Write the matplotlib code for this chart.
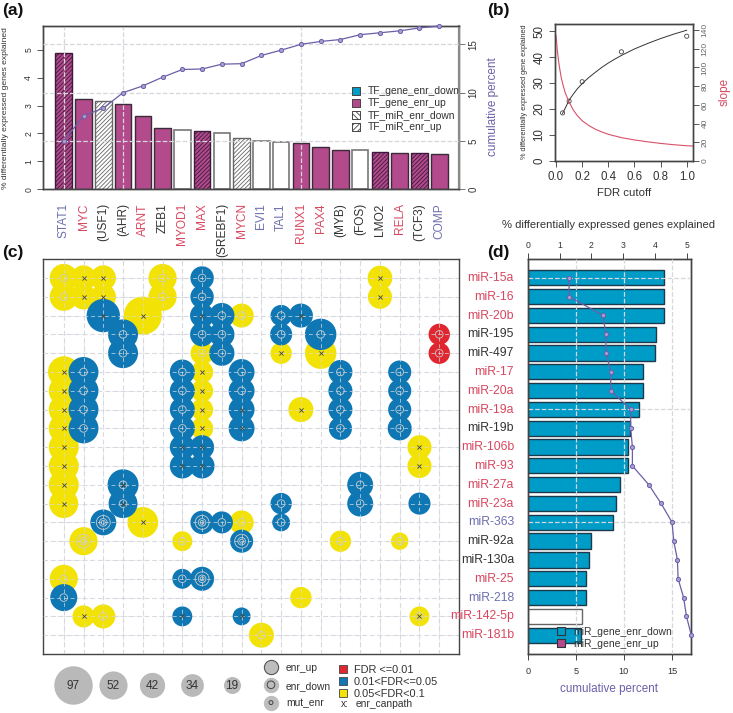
import numpy as np
import matplotlib
matplotlib.use('Agg')
import matplotlib.pyplot as plt

plt.rcParams['font.family'] = ['Liberation Sans', 'DejaVu Sans']
plt.rcParams['hatch.linewidth'] = 0.6

W, H = 733, 713

# --- colours ---
MAG = '#B24A8B'
BAR_BLUE = '#009CC8'
DOT_BLUE = '#0F78B4'
YEL = '#F3E205'
RED = '#E0262E'
T_RED = '#D8475F'
T_BLUE = '#6E6FAE'
T_DARK = '#333333'
PURPLE = '#6C5FA8'
GRID = '#D6D6DC'
text_col = {'r': T_RED, 'b': T_BLUE, 'd': T_DARK}

# --- panel a ---
tf_names = ['STAT1', 'MYC', '(USF1)', '(AHR)', 'ARNT', 'ZEB1', 'MYOD1', 'MAX', '(SREBF1)', 'MYCN',
            'EVI1', 'TAL1', 'RUNX1', 'PAX4', '(MYB)', '(FOS)', 'LMO2', 'RELA', '(TCF3)', 'COMP']
tf_colors = ['b', 'r', 'd', 'd', 'r', 'd', 'r', 'r', 'd', 'r', 'b', 'b', 'r', 'r', 'd', 'd', 'd', 'r', 'd', 'b']
tf_values = [4.9, 3.25, 3.18, 3.05, 2.62, 2.18, 2.13, 2.1, 2.03, 1.82,
             1.74, 1.71, 1.67, 1.5, 1.4, 1.4, 1.35, 1.31, 1.31, 1.26]
# m = magenta, h = magenta hatched, w = white, s = white hatched
tf_style = ['h', 'm', 's', 'm', 'm', 'm', 'w', 'h', 'w', 's', 'w', 'w', 'm', 'm', 'm', 'w', 'h', 'm', 'h', 'm']
tf_cum = [5.0, 7.6, 8.4, 10.0, 10.7, 11.6, 12.4, 12.45, 12.95, 13.0,
          13.85, 14.4, 15.0, 15.3, 15.5, 16.0, 16.2, 16.4, 16.7, 16.9]

# --- panel b ---
fdr_pts = [0.05, 0.1, 0.2, 0.5, 1.0]
pct_pts = [18.5, 23, 30.5, 42, 48]
fit_x = [0.05, 0.07, 0.1, 0.13, 0.16, 0.2, 0.25, 0.3, 0.35, 0.4, 0.45, 0.5, 0.6, 0.7, 0.8, 0.9, 1.0]
fit_y = [18.3, 20.3, 23.4, 25.6, 27.6, 29.8, 32.1, 34.1, 36, 37.7, 39.2, 40.6, 43.1, 45.2, 47.1, 48.8, 50.3]
slope_x = [0.0, 0.005, 0.01, 0.02, 0.03, 0.04, 0.05, 0.07, 0.1, 0.13, 0.16, 0.2, 0.25, 0.3, 0.35, 0.4,
           0.5, 0.6, 0.7, 0.8, 0.9, 1.0, 1.045]
slope_y = [134, 126, 118, 106, 97, 89, 83, 73, 63, 55, 49, 43, 38, 34, 31, 28.5,
           25, 22.5, 20.5, 18.8, 17.4, 16.3, 16]

# --- panel c: circles by FDR class, size is gene count, mark is what sits in the centre ---
y_col = [0, 1, 2, 5, 16, 0, 1, 2, 5, 16, 4, 9, 7, 11, 13, 0, 7, 0, 7, 0, 7, 12, 0, 7, 0, 18, 0, 18, 0, 0,
         4, 9, 1, 6, 14, 17, 0, 12, 1, 2, 18, 10]
y_row = [0, 0, 0, 0, 0, 1, 1, 1, 1, 1, 2, 2, 4, 4, 4, 5, 5, 6, 6, 7, 7, 7, 8, 8, 9, 9, 10, 10, 11, 12,
         13, 13, 14, 14, 14, 14, 16, 17, 18, 18, 18, 19]
y_size = [52, 42, 42, 52, 40, 52, 42, 42, 52, 38, 95, 38, 35, 30, 65, 65, 32, 59, 32, 59, 32, 41, 59, 32, 59, 38, 59, 38, 59, 55,
          62, 38, 52, 26, 30, 20, 52, 30, 32, 38, 26, 41]
y_mark = ['o', 'x', 'x', 'o', 'x', 'o', 'x', 'x', 'o', 'x', 'x', 'o', 'o', 'x', 'x', 'x', 'x', 'x', 'x', 'x', 'x', 'x', 'x', 'x', 'x', 'x', 'x', 'x', 'x', 'x',
          'x', 'o', 'oo', 'o', 'o', 'o', 'o', '', 'x', 'o', 'ox', 'o']

b_col = [7, 7, 2, 7, 8, 11, 12, 3, 7, 8, 11, 13, 3, 8, 1, 6, 9, 14, 17, 1, 6, 9, 14, 17, 1, 6, 9, 14, 17, 1, 6, 9, 14, 17,
         6, 7, 6, 7, 3, 15, 3, 11, 15, 18, 2, 7, 8, 11, 9, 6, 7, 0, 6, 9]
b_row = [0, 1, 2, 2, 2, 2, 2, 3, 3, 3, 3, 3, 4, 4, 5, 5, 5, 5, 5, 6, 6, 6, 6, 6, 7, 7, 7, 7, 7, 8, 8, 8, 8, 8,
         9, 9, 10, 10, 11, 11, 12, 12, 12, 12, 13, 13, 13, 13, 14, 16, 16, 17, 18, 18]
b_size = [36, 36, 73, 38, 42, 30, 38, 59, 38, 42, 32, 65, 59, 42, 59, 41, 44, 38, 35, 59, 41, 44, 38, 35, 59, 41, 44, 38, 35, 59, 41, 44, 35, 38,
          41, 38, 41, 41, 63, 44, 55, 30, 44, 32, 44, 36, 32, 21, 35, 26, 38, 48, 26, 21]
b_mark = ['o', 'o', 'x', 'x', 'o', 'o', 'x', 'o', 'o', 'o', 'o', 'o', 'o', 'o', 'o', 'o', 'o', 'o', 'o', 'o', 'o', 'o', 'o', 'o', 'o', 'o', 'x', 'o', 'o', 'o', 'o', 'x', 'o', 'o',
          'x', 'x', 'x', 'x', 'ox', 'o', 'ox', 'o', 'o', '', 'oo', 'oo', 'o', 'o', 'oo', 'o', 'oo', 'o', 'x', 'x']

r_col = [19, 19]
r_row = [3, 4]
r_size = [30, 30]
r_mark = ['o', 'o']

size_legend = [97, 52, 42, 34, 19]

# --- panel d ---
mir_names = ['miR-15a', 'miR-16', 'miR-20b', 'miR-195', 'miR-497', 'miR-17', 'miR-20a', 'miR-19a', 'miR-19b', 'miR-106b',
             'miR-93', 'miR-27a', 'miR-23a', 'miR-363', 'miR-92a', 'miR-130a', 'miR-25', 'miR-218', 'miR-142-5p', 'miR-181b']
mir_colors = ['r', 'r', 'r', 'd', 'd', 'r', 'r', 'r', 'd', 'r', 'r', 'r', 'r', 'b', 'd', 'd', 'r', 'b', 'r', 'r']
mir_values = [4.28, 4.28, 4.28, 4.01, 3.99, 3.6, 3.6, 3.48, 3.2, 3.16,
              3.16, 2.88, 2.78, 2.66, 2.0, 1.91, 1.83, 1.83, 1.69, 1.66]
mir_style = ['b'] * 18 + ['w', 'b']
mir_cum = [4.3, 4.3, 7.8, 8.14, 8.14, 8.63, 8.63, 10.7, 10.7, 10.88,
           10.88, 12.58, 13.86, 15.0, 15.18, 15.56, 15.63, 16.2, 16.5, 17.0]


def axes_px(l, t, r, b):
    return fig.add_axes([l / W, 1 - b / H, (r - l) / W, (b - t) / H])


def frame(ax, color='#444444', lw=1.0):
    for s in ax.spines.values():
        s.set_color(color)
        s.set_linewidth(lw)


fig = plt.figure(figsize=(W / 100, H / 100), dpi=100)

# ---------- (a) ----------
ax = axes_px(43, 26, 459, 189.3)
for i, v in enumerate(tf_values):
    st = tf_style[i]
    if st == 'm':
        ax.bar(i, v, 0.84, color=MAG, edgecolor='#3a2a3a', linewidth=1.0)
    elif st == 'h':
        ax.bar(i, v, 0.84, color=MAG, edgecolor='#3d1a3d', linewidth=1.0, hatch='////////')
    elif st == 's':
        ax.bar(i, v, 0.84, color='white', edgecolor='#666666', linewidth=1.0, hatch='////////')
    else:
        ax.bar(i, v, 0.84, color='white', edgecolor='#777777', linewidth=1.2)
ax.set_xlim(-1.05, 20.0)
ax.set_ylim(0, 5.85)
ax.set_xticks(range(20))
ax.set_xticklabels(tf_names, rotation=90, fontsize=8.6)
for lab, c in zip(ax.get_xticklabels(), tf_colors):
    lab.set_color(text_col[c])
ax.tick_params(axis='x', length=0, pad=10)
ax.set_yticks(range(6))
ax.set_yticklabels(range(6), rotation=90, va='center', fontsize=6.2, color=T_DARK)
ax.tick_params(axis='y', length=4, width=0.7, color='#555555', pad=3)
frame(ax)
for x in [0, 3, 12]:
    ax.axvline(x, color=GRID, ls='--', lw=0.9, zorder=5)

ax2 = ax.twinx()
ax2.set_position(ax.get_position())
ax2.set_ylim(0, 16.9)
ax2.plot(range(20), tf_cum, color=PURPLE, lw=0.9, marker='o', ms=3, mfc='#A79FD0', mec=PURPLE, mew=0.7, clip_on=False, zorder=6)
ax2.set_yticks([0, 5, 10, 15])
ax2.set_yticklabels([0, 5, 10, 15], rotation=90, va='center', fontsize=7, color=T_DARK)
ax2.tick_params(axis='y', length=4, width=0.7, color='#777777', pad=3)
frame(ax2)
ax2.spines['right'].set_color('#8a8a8a')
ax2.spines['right'].set_linewidth(1.6)
for y in [5, 10, 15]:
    ax2.axhline(y, color=GRID, ls='--', lw=0.9, zorder=5)

# ---------- (b) ----------
bx = axes_px(555, 24, 693, 161)
bx.plot(fit_x, fit_y, color='#333333', lw=0.7)
bx.scatter(fdr_pts, pct_pts, s=9, facecolors='none', edgecolors='#444444', linewidths=0.6, zorder=3)
bx.set_xlim(-0.008, 1.048)
bx.set_ylim(0, 52.7)
bx.set_xticks([0, 0.2, 0.4, 0.6, 0.8, 1.0])
bx.set_xticklabels(['0.0', '0.2', '0.4', '0.6', '0.8', '1.0'], fontsize=8.3, color=T_DARK)
bx.set_yticks(range(0, 51, 10))
bx.set_yticklabels(range(0, 51, 10), rotation=90, va='center', fontsize=8.3, color=T_DARK)
bx.tick_params(length=4, width=0.7, color='#555555', pad=3)
frame(bx)
bx2 = bx.twinx()
bx2.set_position(bx.get_position())
bx2.plot(slope_x, slope_y, color='#D8506A', lw=0.8)
bx2.set_ylim(0, 146.4)
bx2.set_yticks(range(0, 141, 20))
bx2.set_yticklabels(range(0, 141, 20), rotation=90, va='center', fontsize=6, color='#666666')
bx2.tick_params(length=4, width=0.7, color='#555555', pad=2)
frame(bx2)

# ---------- (c) ----------
cx = axes_px(43, 259, 459, 654)
cx.set_xlim(-1.05, 20.0)
cx.set_ylim(20.0, -1.01)
cx.set_xticks([])
cx.set_yticks([])
frame(cx)
for x in range(20):
    cx.axvline(x, color=GRID, ls=(0, (4, 3)), lw=0.8, zorder=1)
    cx.axhline(x, color=GRID, ls=(0, (4, 3)), lw=0.8, zorder=1)


def dots(col, row, size, mark, color):
    # area goes with the gene count, 7.9 pt^2 per gene
    cx.scatter(col, row, s=[7.9 * n for n in size], color=color, linewidths=0, zorder=2)
    for c, r, m in zip(col, row, mark):
        if 'o' in m:
            cx.scatter(c, r, s=30, facecolors='none', edgecolors='#CDCDCD', linewidths=0.6, zorder=4)
        if m == 'oo':
            cx.scatter(c, r, s=100, facecolors='none', edgecolors='#CDCDCD', linewidths=0.6, zorder=4)
            cx.scatter(c, r, s=8, facecolors='none', edgecolors='#CDCDCD', linewidths=0.6, zorder=4)
        if 'x' in m:
            cx.scatter(c, r, s=9, marker='x', color='#444433', linewidths=0.6, zorder=4)


dots(y_col, y_row, y_size, y_mark, YEL)
dots(b_col, b_row, b_size, b_mark, DOT_BLUE)
dots(r_col, r_row, r_size, r_mark, RED)
# light dashes across the circles
for x in range(20):
    cx.axvline(x, color='#D8DCE4', ls=(0, (4, 3)), lw=0.7, zorder=3, alpha=0.7)
    cx.axhline(x, color='#D8DCE4', ls=(0, (4, 3)), lw=0.7, zorder=3, alpha=0.7)

# ---------- (d) ----------
dx = axes_px(527.7, 258.7, 691, 654)
for i, v in enumerate(mir_values):
    if mir_style[i] == 'b':
        dx.barh(i, v, 0.81, color=BAR_BLUE, edgecolor='#1d3a4a', linewidth=1.0, zorder=2)
    else:
        dx.barh(i, v, 0.81, color='white', edgecolor='#666666', linewidth=1.0, zorder=2)
dx.set_xlim(0, 5.12)
dx.set_ylim(20.0, -1.01)
dx.set_yticks([])
frame(dx)
for i in [0, 7, 13]:
    dx.axhline(i, color=GRID, ls='--', lw=0.9, zorder=3)

dx2 = dx.twiny()
dx2.set_position(dx.get_position())
dx2.set_xlim(0, 16.97)
dx2.xaxis.tick_bottom()
dx2.set_xticks([0, 5, 10, 15])
dx2.set_xticklabels([0, 5, 10, 15], fontsize=6.6, color=T_DARK)
dx2.tick_params(axis='x', length=4, width=0.7, color='#444444', pad=5)
frame(dx2)
for v in [5, 10, 15]:
    dx2.axvline(v, color=GRID, ls='--', lw=0.9, zorder=3)
dx2.plot(mir_cum, range(20), color=PURPLE, lw=0.9, marker='o', ms=3, mfc='#A79FD0', mec=PURPLE, mew=0.7, clip_on=False, zorder=6)

# twiny moves the first axis back to the bottom, so put it on top after
dx.xaxis.tick_top()
dx.set_xticks(range(6))
dx.set_xticklabels(range(6), fontsize=6.2, color=T_DARK)
dx.tick_params(axis='x', length=4, width=0.7, color='#444444', pad=2)

# ---------- texts and hand made legends, in pixels ----------
lg = fig.add_axes([0, 0, 1, 1], zorder=10)
lg.set_xlim(0, W)
lg.set_ylim(H, 0)
lg.axis('off')


def txt(x, y, s, size, color=T_DARK, **kw):
    kw.setdefault('va', 'center')
    kw.setdefault('ha', 'left')
    lg.text(x, y, s, fontsize=size, color=color, **kw)


for x, y, s in [(2, 10, '(a)'), (487, 11, '(b)'), (2, 253, '(c)'), (487, 253, '(d)')]:
    txt(x, y, s, 12.5, color='#111111', fontweight='bold')

txt(6, 108, '% differentially expressed genes explained', 6.1, rotation=90, ha='center')
txt(493, 107, 'cumulative percent', 8.5, color=PURPLE, rotation=90, ha='center')
txt(525, 92, '% differentially expressed gene explained', 5.3, rotation=90, ha='center')
txt(725, 92, 'slope', 8.5, color=T_RED, rotation=90, ha='center')
txt(624, 193, 'FDR cutoff', 8.2, ha='center')
txt(609, 225, '% differentially expressed genes explained', 8.1, ha='center')
txt(609, 689, 'cumulative percent', 8.4, color=PURPLE, ha='center')

for i, s in enumerate(mir_names):
    # same row spacing as panel c
    txt(514, 278 + 18.8 * i, s, 8.8, color=text_col[mir_colors[i]], ha='right')

# panel a legend
a_labels = ['TF_gene_enr_down', 'TF_gene_enr_up', 'TF_miR_enr_down', 'TF_miR_enr_up']
a_fill = [BAR_BLUE, MAG, 'white', 'white']
a_hatch = [None, None, '\\\\\\\\\\\\', '//////']
for i, s in enumerate(a_labels):
    y = 91 + 12 * i
    lg.scatter(356, y, s=26, marker='s', color=a_fill[i], edgecolor='#444444', linewidths=0.7, hatch=a_hatch[i])
    txt(368, y, s, 7.4)

# size legend in panel c
for x, n in zip([73, 113, 152, 192, 232], size_legend):
    lg.scatter(x, 685, s=7.9 * n, color='#B9B9B9', linewidths=0)
    txt(x, 686, str(n), 8.5, ha='center')

# type legend
type_labels = ['enr_up', 'enr_down', 'mut_enr']
for i, s in enumerate(type_labels):
    y = 667 + 17.8 * i
    lg.scatter(271, y, s=105, color='#BDBDBD', edgecolor='#555555' if i == 0 else '#BDBDBD', linewidths=0.8)
    if i == 1:
        lg.scatter(271, y, s=30, facecolors='none', edgecolors='#444444', linewidths=0.7)
    if i == 2:
        lg.scatter(271, y, s=8, facecolors='none', edgecolors='#444444', linewidths=0.7)
    txt(286, y + 1, s, 7.4)

fdr_labels = ['FDR <=0.01', '0.01<FDR<=0.05', '0.05<FDR<0.1']
fdr_colors = [RED, DOT_BLUE, YEL]
for i, s in enumerate(fdr_labels):
    y = 669 + 12 * i
    lg.scatter(343, y, s=26, marker='s', color=fdr_colors[i], edgecolor='#444444', linewidths=0.6)
    txt(354, y + 1, s, 7.9)
txt(341, 704, 'x:', 7.4)
txt(356, 704, 'enr_canpath', 7.4)

# panel d legend
d_labels = ['miR_gene_enr_down', 'miR_gene_enr_up']
d_fill = [BAR_BLUE, MAG]
for i, s in enumerate(d_labels):
    y = 631 + 12 * i
    lg.scatter(561, y, s=34, marker='s', color=d_fill[i], edgecolor='#333333', linewidths=0.8)
    txt(573, y + 1, s, 7.5)

fig.savefig('out.png', dpi=100)
